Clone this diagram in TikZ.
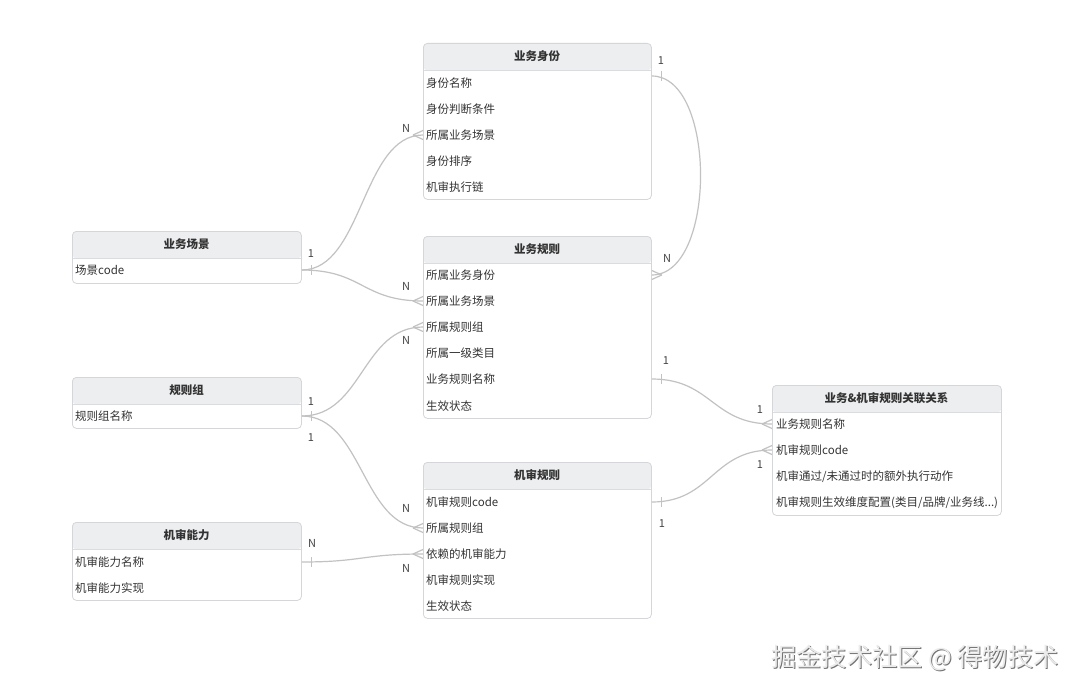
\documentclass[tikz,border=0pt]{standalone}
\usepackage{fontspec}
\setmainfont{Noto Sans CJK SC}
\definecolor{tblborder}{HTML}{D4D6D9}
\definecolor{headfill}{HTML}{EDEEF0}
\definecolor{headline}{HTML}{DADCDF}
\definecolor{txt}{HTML}{333333}
\definecolor{relc}{HTML}{C2C2C2}
\definecolor{lblc}{HTML}{444444}
\tikzset{
  tbl/.style={draw=tblborder, line width=0.8pt, rounded corners=4pt, fill=white,
    anchor=north west, inner sep=0pt,
    path picture={\fill[headfill] (path picture bounding box.north west) rectangle ([yshift=-27pt]path picture bounding box.north east);
      \draw[headline, line width=0.8pt] ([yshift=-27pt]path picture bounding box.north west) -- ([yshift=-27pt]path picture bounding box.north east);}},
  hdr/.style={font=\bfseries\fontsize{11.5}{13}\selectfont, text=txt, inner sep=0pt},
  rowt/.style={anchor=west, font=\fontsize{11.5}{13}\selectfont, text=txt, inner sep=0pt},
  rel/.style={draw=relc, line width=1.2pt},
  lbl/.style={font=\fontsize{11}{12}\selectfont, text=lblc, inner sep=0pt},
}
\newcommand\onemk[2]{\draw[rel] ([xshift=#2pt]#1) ++(0,-5) -- ++(0,10);}
\newcommand\manymk[2]{\draw[rel] ([xshift=#2pt]#1) -- ([yshift=4.5pt]#1) ([xshift=#2pt]#1) -- ([yshift=-4.5pt]#1);}
\begin{document}
\begin{tikzpicture}[x=1pt,y=-1pt]
\useasboundingbox[fill=white] (0,0) rectangle (1080,693);

% ---------- tables ----------
% 业务身份
\node[tbl, minimum width=228pt, minimum height=156pt] (bi) at (423,43) {};
\node[hdr] (bih) at (537,56.5) {业务身份};
\node[rowt] (bi1) at (426,83) {身份名称};
\node[rowt] (bi2) at (426,109) {身份判断条件};
\node[rowt] (bi3) at (426,135) {所属业务场景};
\node[rowt] (bi4) at (426,161) {身份排序};
\node[rowt] (bi5) at (426,187) {机审执行链};

% 业务规则
\node[tbl, minimum width=228pt, minimum height=182pt] (br) at (423,236) {};
\node[hdr] (brh) at (537,249.5) {业务规则};
\node[rowt] (br1) at (426,275) {所属业务身份};
\node[rowt] (br2) at (426,301) {所属业务场景};
\node[rowt] (br3) at (426,327) {所属规则组};
\node[rowt] (br4) at (426,353) {所属一级类目};
\node[rowt] (br5) at (426,379) {业务规则名称};
\node[rowt] (br6) at (426,406) {生效状态};

% 业务场景
\node[tbl, minimum width=229pt, minimum height=52pt] (sc) at (72,231) {};
\node[hdr] (sch) at (186.5,244.5) {业务场景};
\node[rowt] (sc1) at (75,270) {场景code};

% 规则组
\node[tbl, minimum width=229pt, minimum height=51pt] (rg) at (72,377) {};
\node[hdr] (rgh) at (186.5,390.5) {规则组};
\node[rowt] (rg1) at (75,416) {规则组名称};

% 机审能力
\node[tbl, minimum width=229pt, minimum height=78pt] (ja) at (72,522) {};
\node[hdr] (jah) at (186.5,535.5) {机审能力};
\node[rowt] (ja1) at (75,562) {机审能力名称};
\node[rowt] (ja2) at (75,588) {机审能力实现};

% 机审规则
\node[tbl, minimum width=228pt, minimum height=156pt] (jr) at (423,462) {};
\node[hdr] (jrh) at (537,475.5) {机审规则};
\node[rowt] (jr1) at (426,502) {机审规则code};
\node[rowt] (jr2) at (426,528) {所属规则组};
\node[rowt] (jr3) at (426,554) {依赖的机审能力};
\node[rowt] (jr4) at (426,580) {机审规则实现};
\node[rowt] (jr5) at (426,606) {生效状态};

% 业务&机审规则关联关系
\node[tbl, minimum width=229pt, minimum height=130pt] (as) at (772,385) {};
\node[hdr] (ash) at (886.5,398.5) {业务\&机审规则关联关系};
\node[rowt] (as1) at (776,424) {业务规则名称};
\node[rowt] (as2) at (776,450) {机审规则code};
\node[rowt] (as3) at (776,477) {机审通过/未通过时的额外执行动作};
\node[rowt] (as4) at (776,503) {机审规则生效维度配置(类目/品牌/业务线...)};

% ---------- connectors ----------
\coordinate (c1s) at (sc.east |- sc1);
\coordinate (c1e) at (bi.west |- bi3);
\coordinate (c2e) at (br.west |- br2);
\coordinate (c3s) at (rg.east |- rg1);
\coordinate (c3e) at (br.west |- br3);
\coordinate (c4e) at (jr.west |- jr2);
\coordinate (c5s) at (ja.east |- ja1);
\coordinate (c5e) at (jr.west |- jr3);
\coordinate (c6s) at ([yshift=-33pt]bi.north east);
\coordinate (c6e) at (br.east |- br1);
\coordinate (c7s) at (br.east |- br5);
\coordinate (c7e) at (as.west |- as1);
\coordinate (c8s) at (jr.east |- jr1);
\coordinate (c8e) at (as.west |- as2);

\draw[rel] (c1s) .. controls +(61,0) and +(-61,0) .. (c1e);
\draw[rel] (c1s) .. controls +(61,0) and +(-61,0) .. (c2e);
\draw[rel] (c3s) .. controls +(61,0) and +(-61,0) .. (c3e);
\draw[rel] (c3s) .. controls +(61,0) and +(-61,0) .. (c4e);
\draw[rel] (c5s) .. controls +(61,0) and +(-61,0) .. (c5e);
\draw[rel] (c6s) .. controls +(65,0) and +(65,0) .. (c6e);
\draw[rel] (c7s) .. controls +(60,0) and +(-60,0) .. (c7e);
\draw[rel] (c8s) .. controls +(60,0) and +(-60,0) .. (c8e);

% one-ends
\onemk{c1s}{10}
\onemk{c3s}{10}
\onemk{c5s}{10}
\onemk{c6s}{10}
\onemk{c7s}{10}
\onemk{c8s}{10}
% many-ends
\manymk{c1e}{-10}
\manymk{c2e}{-10}
\manymk{c3e}{-10}
\manymk{c4e}{-10}
\manymk{c5e}{-10}
\manymk{c6e}{10}
\manymk{c7e}{-10}
\manymk{c8e}{-10}

% ---------- labels ----------
\node[lbl] (l1) at (311,254) {1};
\node[lbl] (l2) at (406,128) {N};
\node[lbl] (l3) at (406,286) {N};
\node[lbl] (l4) at (311,402) {1};
\node[lbl] (l5) at (406,340) {N};
\node[lbl] (l6) at (311,438) {1};
\node[lbl] (l7) at (406,508) {N};
\node[lbl] (l8) at (312,543) {N};
\node[lbl] (l9) at (406,568) {N};
\node[lbl] (l10) at (661,61) {1};
\node[lbl] (l11) at (667,258) {N};
\node[lbl] (l12) at (666,361) {1};
\node[lbl] (l13) at (760,410) {1};
\node[lbl] (l14) at (662,524) {1};
\node[lbl] (l15) at (760,465) {1};

% ---------- watermark ----------
\node[font=\fontsize{25.2}{27}\selectfont, text=black!55, inner sep=0pt] (wms) at (916,659.2) {掘金技术社区 @ 得物技术};
\node[font=\fontsize{25.2}{27}\selectfont, text=white!92!black, inner sep=0pt] (wm) at (915,658) {掘金技术社区 @ 得物技术};
\end{tikzpicture}
\end{document}
